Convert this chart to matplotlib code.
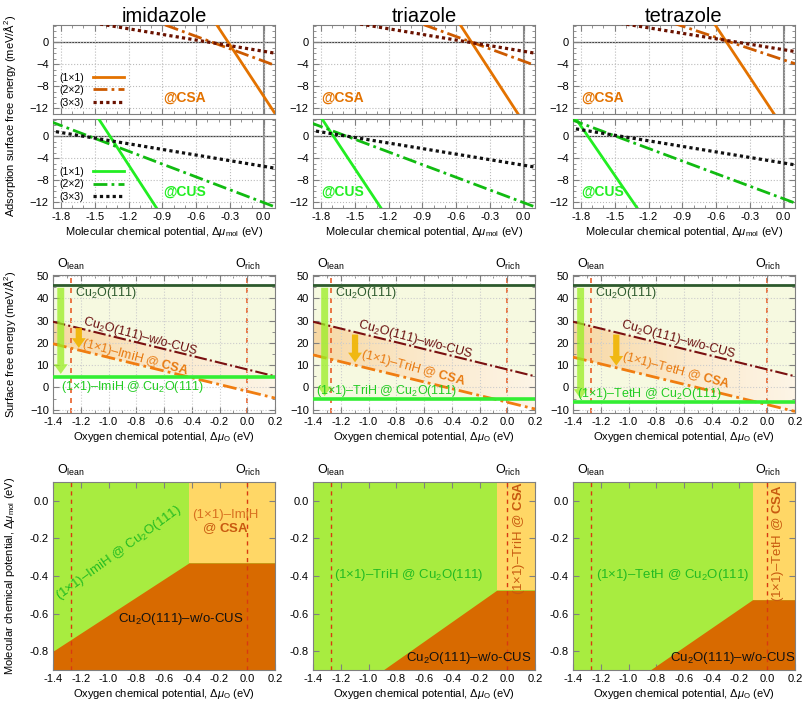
import numpy as np
import matplotlib
matplotlib.use("Agg")
import matplotlib.pyplot as plt
from matplotlib.ticker import FormatStrFormatter, MultipleLocator

# ---- data -------------------------------------------------------------
molecules = ["imidazole", "triazole", "tetrazole"]
short = ["ImiH", "TriH", "TetH"]
cells = ["(1×1)", "(2×2)", "(3×3)"]

# top row: adsorption free energy at the two ends of the mu_mol axis
mu_mol_ends = [-1.9, 0.1]
imi_csa = [[49.1, -12.9], [10.8, -4.2], [4.8, -2.0]]
imi_cus = [[16.8, -46.0], [2.7, -12.8], [1.0, -5.8]]
tri_csa = [[45.1, -17.7], [10.7, -4.2], [4.8, -2.0]]
tri_cus = [[6.5, -55.1], [2.5, -12.8], [1.1, -5.6]]
tet_csa = [[42.9, -18.7], [9.7, -3.9], [4.9, -1.7]]
tet_cus = [[4.8, -54.6], [3.1, -12.1], [1.5, -5.2]]
csa_sets = [imi_csa, tri_csa, tet_csa]
cus_sets = [imi_cus, tri_cus, tet_cus]

# middle row: surface free energy vs mu_O
mu_o_ends = [-1.4, 0.2]
clean_cu2o = 46.0
wo_cus = [29.5, 5.0]
csa_mid = [[19.6, -4.8], [14.6, -9.7], [13.6, -10.8]]
cu2o_ads = [4.8, -5.2, -6.4]
o_lean, o_rich = -1.27, 0.0

# bottom row: phase boundaries (lower dark region edge) and CSA corner
wo_edge_x = [[-1.4, -0.42, 0.2], [-0.895, -0.077, 0.2], [-0.844, -0.106, 0.2]]
wo_edge_y = [[-0.80, -0.33, -0.33], [-0.90, -0.476, -0.476], [-0.90, -0.526, -0.526]]
csa_x0 = [-0.42, -0.077, -0.106]
csa_y0 = [-0.33, -0.476, -0.526]

# ---- style ------------------------------------------------------------
plt.rcParams["font.family"] = ["Liberation Sans", "DejaVu Sans"]
plt.rcParams["mathtext.fontset"] = "custom"
plt.rcParams["mathtext.rm"] = "Liberation Sans"
plt.rcParams["mathtext.it"] = "Liberation Sans:italic"
plt.rcParams["mathtext.bf"] = "Liberation Sans:bold"
plt.rcParams["mathtext.default"] = "regular"

csa_cols = ["#e37200", "#cc5a00", "#6a1200"]
cus_cols = ["#22ee22", "#11bb11", "#111111"]
styles = ["-", (0, (5, 1.5, 1, 1.5)), (0, (1, 1))]
widths = [2.0, 2.0, 2.3]
frame = "#808080"
lab_fs = 8
tick_fs = 8

W, H = 806, 706
fig = plt.figure(figsize=(W / 100, H / 100), dpi=100)


def box(x0, y0, x1, y1):
    return [x0 / W, 1 - y1 / H, (x1 - x0) / W, (y1 - y0) / H]


def style_ax(ax):
    for s in ax.spines.values():
        s.set_color(frame)
    ax.tick_params(direction="in", top=True, right=True, which="both",
                   color=frame, labelsize=tick_fs, pad=3)
    ax.tick_params(which="major", length=4)
    ax.tick_params(which="minor", length=2)


lefts = [53, 313, 573]
for c in range(3):
    L = lefts[c]
    fig.text((L + 111) / W, 1 - 16 / H, molecules[c], ha="center", va="center", fontsize=14.5)

    # ---- top: CSA and CUS panels
    for k, (data, cols, site, y0, y1) in enumerate(
            [(csa_sets[c], csa_cols, "@CSA", 25, 114),
             (cus_sets[c], cus_cols, "@CUS", 119, 208)]):
        ax = fig.add_axes(box(L, y0, L + 222, y1))
        ax.axhline(0, color="#444444", lw=0.9, zorder=1)
        ax.axvline(0, color="#888888", lw=1.5, zorder=1)
        for i in range(3):
            ax.plot(mu_mol_ends, data[i], color=cols[i], ls=styles[i], lw=widths[i],
                    label=cells[i], zorder=3)
        ax.set_xlim(-1.87, 0.1)
        ax.set_ylim(-13, 3.1)
        ax.set_yticks([0, -4, -8, -12])
        ax.xaxis.set_major_locator(MultipleLocator(0.3))
        ax.xaxis.set_minor_locator(MultipleLocator(0.1))
        ax.yaxis.set_minor_locator(MultipleLocator(1))
        ax.xaxis.set_major_formatter(FormatStrFormatter("%.1f"))
        ax.grid(True, which="major", color="#bbbbbb", ls=":", lw=0.8)
        style_ax(ax)
        tx = -0.70 if c == 0 else -1.61
        ax.text(tx, -10.1, site, color=cols[0] if k == 0 else "#22ee22",
                fontsize=10, fontweight="bold", ha="center", va="center")
        if c == 0:
            ax.legend(loc="lower left", bbox_to_anchor=(0.0, 0.0), markerfirst=False,
                      frameon=False, fontsize=7.5, handlelength=2.9, labelspacing=0.25,
                      handletextpad=0.9, borderaxespad=0.2)
        if k == 0:
            ax.tick_params(labelbottom=False)
        else:
            ax.set_xlabel(r"Molecular chemical potential, $\Delta\mathit{\mu}_{\rm mol}$ (eV)",
                          fontsize=lab_fs, labelpad=2)

    # ---- middle: surface free energy
    ax = fig.add_axes(box(L, 275, L + 222, 413))
    ax.fill_between(mu_o_ends, cu2o_ads[c], clean_cu2o, color="#f6f9e0", zorder=0, lw=0)
    poly = ax.fill_between(mu_o_ends, csa_mid[c], wo_cus, color="none", lw=0)
    grad = np.linspace(0, 1, 64)[None, :]
    cmap = matplotlib.colors.LinearSegmentedColormap.from_list(
        "g", ["#f7d8a4", "#fbe9cc", "#fdf5e6"])
    img = ax.imshow(grad, cmap=cmap, extent=[-1.4, 0.2, -11.5, 50.5], aspect="auto",
                    origin="lower", zorder=0.5)
    img.set_clip_path(poly.get_paths()[0], transform=ax.transData)
    ax.axvline(o_lean, color="#e8602a", ls=(0, (3, 3)), lw=1.2, zorder=1)
    ax.axvline(o_rich, color="#e8602a", ls=(0, (3, 3)), lw=1.2, zorder=1)
    ax.axhline(clean_cu2o, color="#2d5a2d", lw=2.0, zorder=3)
    ax.plot(mu_o_ends, wo_cus, color="#7a1010", ls=(0, (6, 1.5, 1, 1.5)), lw=1.5, zorder=3)
    ax.plot(mu_o_ends, csa_mid[c], color="#f07d10", ls=(0, (5, 1.5, 1, 1.5)), lw=2.0, zorder=3)
    ax.axhline(cu2o_ads[c], color="#33ee33", lw=2.6, zorder=3)
    gx = [-1.344, -1.316, -1.345][c]
    ax.annotate("", xy=(gx, cu2o_ads[c]), xytext=(gx, clean_cu2o),
                arrowprops=dict(arrowstyle="simple,head_length=0.7,head_width=1.0,tail_width=0.5",
                                color="#99ee22", alpha=0.75, lw=0, mutation_scale=10), zorder=4)
    ox = [-1.214, -1.097, -1.088][c]
    oy = [[28.0, 16.5], [25.0, 10.0], [25.0, 8.5]][c]
    ax.annotate("", xy=(ox, oy[1]), xytext=(ox, oy[0]),
                arrowprops=dict(arrowstyle="simple,head_length=0.7,head_width=1.0,tail_width=0.45",
                                color="#f0b400", alpha=0.9, lw=0, mutation_scale=10), zorder=4)
    ax.text(-1.245, 42.3, r"Cu$_2$O(111)", color="#2d5a2d", fontsize=9, ha="left", va="center", zorder=5)
    wx = [-0.77, -0.66, -0.64][c]
    wy = [23.0, 21.3, 21.3][c]
    ax.text(wx, wy, r"Cu$_2$O(111)–w/o-CUS", color="#6a0f0f", fontsize=9, rotation=-15,
            ha="center", va="center", zorder=5)
    cx = [-0.81, -0.68, -0.66][c]
    cy = [13.4, 8.7, 7.4][c]
    ax.text(cx, cy, "(1×1)–%s @ $\\mathbf{CSA}$" % short[c], color="#e87a10", fontsize=9,
            rotation=-15, ha="center", va="center", zorder=5)
    ax.text([-1.344, -1.376, -1.37][c], [0.4, -1.8, -2.8][c],
            "(1×1)–%s @ Cu$_2$O(111)" % short[c], color="#22cc22", fontsize=9,
            ha="left", va="center", zorder=5)
    ax.set_xlim(-1.4, 0.2)
    ax.set_ylim(-11.5, 50.5)
    ax.set_yticks(range(-10, 51, 10))
    ax.xaxis.set_major_locator(MultipleLocator(0.2))
    ax.xaxis.set_minor_locator(MultipleLocator(0.1))
    ax.yaxis.set_minor_locator(MultipleLocator(5))
    ax.xaxis.set_major_formatter(FormatStrFormatter("%.1f"))
    ax.grid(True, which="major", color="#cccccc", ls=":", lw=0.8)
    style_ax(ax)
    ax.set_xlabel(r"Oxygen chemical potential, $\Delta\mathit{\mu}_{\rm O}$ (eV)", fontsize=lab_fs, labelpad=2)
    for xv, lab in [(o_lean, r"O$_{\rm lean}$"), (o_rich, r"O$_{\rm rich}$")]:
        ax.text(xv, 1.02, lab, transform=ax.get_xaxis_transform(), ha="center",
                va="bottom", fontsize=9)

    # ---- bottom: phase diagram
    ax = fig.add_axes(box(L, 482, L + 222, 670))
    ax.set_facecolor("#a8ec40")
    ax.fill_between([csa_x0[c], 0.2], csa_y0[c], 0.1, color="#ffd766", lw=0, zorder=1)
    ax.fill_between(wo_edge_x[c], -0.9, wo_edge_y[c], color="#d86a00", lw=0, zorder=2)
    ax.axvline(o_lean, color="#d83a10", ls=(0, (3, 3)), lw=1.0, zorder=3)
    ax.axvline(o_rich, color="#d83a10", ls=(0, (3, 3)), lw=1.0, zorder=3)
    ax.set_xlim(-1.4, 0.2)
    ax.set_ylim(-0.9, 0.1)
    ax.xaxis.set_major_locator(MultipleLocator(0.2))
    ax.yaxis.set_major_locator(MultipleLocator(0.2))
    ax.xaxis.set_major_formatter(FormatStrFormatter("%.1f"))
    ax.yaxis.set_major_formatter(FormatStrFormatter("%.1f"))
    style_ax(ax)
    ax.set_xlabel(r"Oxygen chemical potential, $\Delta\mathit{\mu}_{\rm O}$ (eV)", fontsize=lab_fs, labelpad=2)
    for xv, lab in [(o_lean, r"O$_{\rm lean}$"), (o_rich, r"O$_{\rm rich}$")]:
        ax.text(xv, 1.02, lab, transform=ax.get_xaxis_transform(), ha="center",
                va="bottom", fontsize=9)
    green_lab = "(1×1)–%s @ Cu$_2$O(111)" % short[c]
    csa_lab = "(1×1)–%s @ $\\mathbf{CSA}$" % short[c]
    wo_lab = r"Cu$_2$O(111)–w/o-CUS"
    if c == 0:
        ax.text(-0.93, -0.275, green_lab, color="#22bb22", fontsize=9.5, rotation=36,
                ha="center", va="center", zorder=4)
        ax.text(-0.16, -0.074, "(1×1)–ImiH", color="#d87020", fontsize=9.5,
                ha="center", va="center", zorder=4)
        ax.text(-0.16, -0.15, "@ $\\mathbf{CSA}$", color="#c85a10", fontsize=9.5,
                ha="center", va="center", zorder=4)
        ax.text(-0.48, -0.627, wo_lab, color="#111111", fontsize=9.5,
                ha="center", va="center", zorder=4)
    else:
        ax.text([0, -0.707, -0.683][c], -0.393, green_lab, color="#22bb22", fontsize=9.5,
                ha="center", va="center", zorder=4)
        ax.text([0, 0.086, 0.074][c], [0, -0.198, -0.225][c], csa_lab, color="#c85a10",
                fontsize=9.5, rotation=90, ha="center", va="center", zorder=4)
        ax.text([0, -0.274, -0.25][c], -0.835, wo_lab, color="#111111", fontsize=9.5,
                ha="center", va="center", zorder=4)

fig.text(10 / W, 1 - 116 / H, "Adsorption surface free energy (meV/Å$^2$)",
         rotation=90, ha="center", va="center", fontsize=lab_fs)
fig.text(10 / W, 1 - 344 / H, "Surface free energy (meV/Å$^2$)",
         rotation=90, ha="center", va="center", fontsize=lab_fs)
fig.text(10 / W, 1 - 576 / H, r"Molecular chemical potential, $\Delta\mathit{\mu}_{\rm mol}$ (eV)",
         rotation=90, ha="center", va="center", fontsize=lab_fs)

fig.savefig("out.png", dpi=100)
